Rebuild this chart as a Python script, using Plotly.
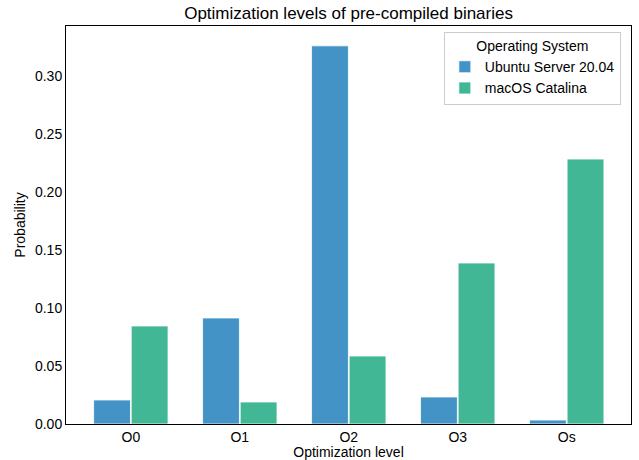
import plotly.graph_objects as go

levels = ["O0", "O1", "O2", "O3", "Os"]
ubuntu = [0.0207, 0.0914, 0.326, 0.0233, 0.0034]
macos = [0.0845, 0.019, 0.0586, 0.1388, 0.2284]
series_names = ["Ubuntu Server 20.04", "macOS Catalina"]
colors = ["#4393c6", "#41b796"]

fig = go.Figure()
for name, vals, c in zip(series_names, [ubuntu, macos], colors):
    fig.add_trace(go.Bar(x=levels, y=vals, name=name,
                         marker=dict(color=c, line=dict(color="rgba(255,255,255,0.8)", width=1))))

font = "Liberation Sans, Arial, sans-serif"
fig.update_layout(
    width=639, height=460,
    margin=dict(l=66, r=8, t=26, b=36),
    paper_bgcolor="white", plot_bgcolor="white",
    barmode="group", bargap=0.31, bargroupgap=0.02,
    font=dict(family=font, size=14, color="black"),
    title=dict(text="Optimization levels of pre-compiled binaries", x=0.5455, xanchor="center",
               y=0.972, yanchor="middle", font=dict(size=17, color="black")),
    xaxis=dict(title=dict(text="Optimization level", font=dict(size=14), standoff=4),
               range=[-0.595, 4.59], showline=True, linecolor="black", linewidth=1, mirror=True,
               ticks="", showgrid=False, tickfont=dict(size=14), automargin=False),
    yaxis=dict(title=dict(text="Probability", font=dict(size=14), standoff=6),
               range=[0, 0.3431], tickvals=[0, 0.05, 0.10, 0.15, 0.20, 0.25, 0.30],
               tickformat=".2f", showline=True, linecolor="black", linewidth=1, mirror=True,
               ticks="", showgrid=False, zeroline=False, tickfont=dict(size=14), automargin=False),
    legend=dict(title=dict(text="Operating System", side="top center", font=dict(size=14)),
                x=0.982, xanchor="right", y=0.985, yanchor="top",
                bordercolor="#cccccc", borderwidth=1, bgcolor="white",
                font=dict(size=14), tracegroupgap=0, itemwidth=30),
)
fig.write_html("out.html")
